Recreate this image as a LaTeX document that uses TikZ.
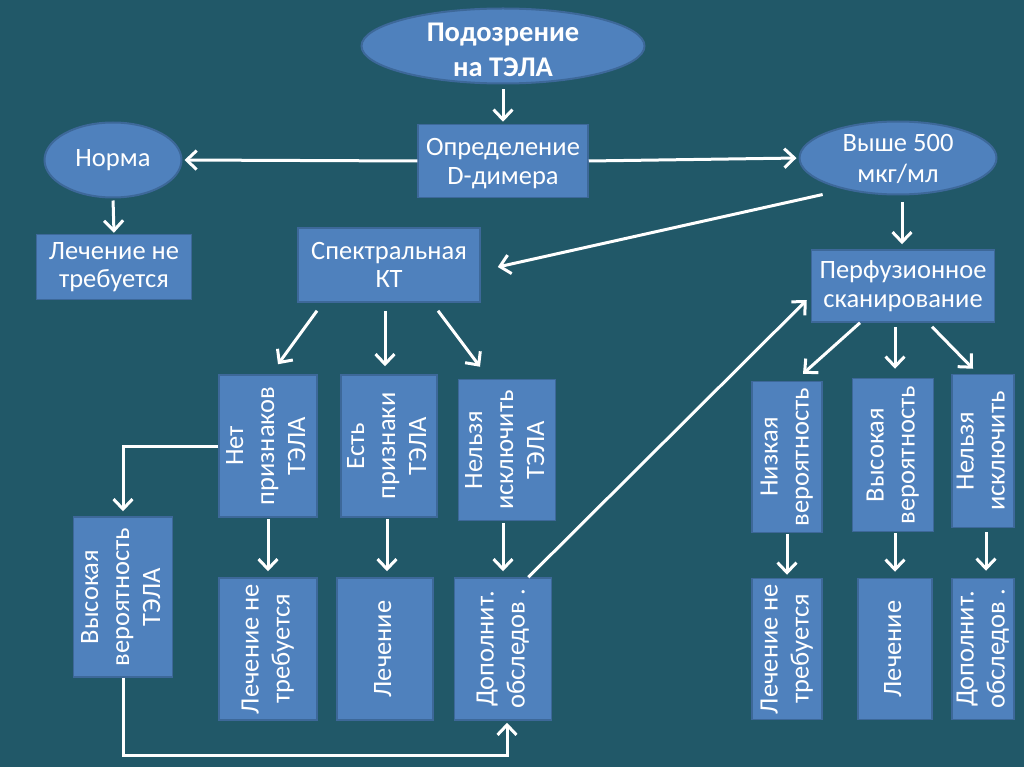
\documentclass[tikz,border=0pt]{standalone}
\usepackage{fontspec}
\setmainfont{Carlito}
\usetikzlibrary{arrows.meta,shapes.geometric,calc}
\definecolor{bg}{HTML}{215868}
\definecolor{boxfill}{HTML}{4F81BD}
\definecolor{boxline}{HTML}{3D6899}
\newcommand{\vtxt}[1]{\rotatebox{90}{\fontsize{26.5}{31}\selectfont\begin{tabular}{@{}c@{}}#1\end{tabular}}}
\newcommand{\lowtxt}[2]{\raisebox{#1}[0pt][0pt]{\begin{tabular}{@{}c@{}}#2\end{tabular}}}
\begin{document}
\begin{tikzpicture}[x=1pt,y=-1pt,
  every node/.style={text=white,font=\fontsize{26.5}{28.5}\selectfont},
  hbox/.style={rectangle,fill=boxfill,draw=boxline,line width=1.5pt,inner sep=0pt,align=center},
  oval/.style={ellipse,fill=boxfill,draw=boxline,line width=2pt,inner sep=0pt,align=center},
  arr/.style={draw=white,line width=3pt,-{Straight Barb[length=10pt,width=19pt,line width=3pt]}}]
\fill[bg] (0,0) rectangle (1024,767);
\useasboundingbox (0,0) rectangle (1024,767);

% top row
\node[oval,minimum width=283,minimum height=75,font=\bfseries\fontsize{28.5}{35}\selectfont] (top) at (503,46) {\lowtxt{-12pt}{Подозрение\\на ТЭЛА}};
\node[hbox,minimum width=170,minimum height=73] (def) at (503,161) {\lowtxt{-9.5pt}{Определение\\D-димера}};
\node[oval,minimum width=137,minimum height=75] (norma) at (113,160) {Норма};
\node[oval,minimum width=197,minimum height=73,font=\fontsize{26.5}{31}\selectfont] (v500) at (898,158) {\lowtxt{-9.5pt}{Выше 500\\мкг/мл}};
\node[hbox,minimum width=155,minimum height=65] (lech0) at (114,267) {Лечение не\\требуется};
\node[hbox,minimum width=182,minimum height=74] (spec) at (389,265) {Спектральная\\КТ};
\node[hbox,minimum width=183,minimum height=72] (perf) at (903,286) {Перфузионное\\сканирование};

% middle row (left group)
\node[hbox,minimum width=98,minimum height=142] (n1) at (268,446) {\vtxt{Нет\\признаков\\ТЭЛА}};
\node[hbox,minimum width=96,minimum height=142] (n2) at (389,446) {\vtxt{Есть\\признаки\\ТЭЛА}};
\node[hbox,minimum width=97,minimum height=141] (n3) at (507,450) {\vtxt{Нельзя\\исключить\\ТЭЛА}};
\node[hbox,minimum width=99,minimum height=160] (hv) at (123,597) {\vtxt{Высокая\\вероятность\\ТЭЛА}};
% bottom row (left group)
\node[hbox,minimum width=98,minimum height=142] (l1) at (268,649) {\vtxt{Лечение не\\требуется}};
\node[hbox,minimum width=96,minimum height=142] (l2) at (385,649) {\vtxt{Лечение}};
\node[hbox,minimum width=97,minimum height=142] (l3) at (503,649) {\vtxt{Дополнит.\\обследов .}};

% right group
\node[hbox,minimum width=70,minimum height=151] (r1) at (787,457) {\vtxt{Низкая\\вероятность}};
\node[hbox,minimum width=81,minimum height=153] (r2) at (893,455) {\vtxt{Высокая\\вероятность}};
\node[hbox,minimum width=62,minimum height=153] (r3) at (983,451) {\vtxt{Нельзя\\исключить}};
\node[hbox,minimum width=70,minimum height=141] (rl1) at (787,649) {\vtxt{Лечение не\\требуется}};
\node[hbox,minimum width=74,minimum height=141] (rl2) at (895,649) {\vtxt{Лечение}};
\node[hbox,minimum width=62,minimum height=141] (rl3) at (983,649) {\vtxt{Дополнит.\\обследов .}};

% connectors
\draw[arr,shorten <=5pt,shorten >=2pt] (top.south) -- (def.north);
\draw[arr,shorten >=2pt] (def.west) -- (norma.east);
\draw[arr,shorten >=2pt] (def.east) -- (v500.west);
\draw[arr,shorten <=2pt,shorten >=1pt] (norma.south) -- (lech0.north);
\draw[arr] ([shift={(-5,10)}]v500.south west) -- ([shift={(17,2)}]spec.east);
\draw[arr,shorten <=7pt,shorten >=5pt] ([xshift=4]v500.south) -- ([xshift=-1]perf.north);

\draw[arr] ([shift={(-72,8)}]spec.south) -- ([shift={(10,-10)}]n1.north);
\draw[arr] ([shift={(-4,8)}]spec.south) -- ([shift={(-4,-8)}]n2.north);
\draw[arr] ([shift={(49,8)}]spec.south) -- ([shift={(-27,-12)}]n3.north);

\draw[arr,shorten <=1pt,shorten >=6pt] (n1.south) -- (l1.north);
\draw[arr,shorten <=1pt,shorten >=6pt] ([xshift=-2]n2.south) -- ([xshift=2]l2.north);
\draw[arr,shorten <=2pt,shorten >=6pt] ([xshift=-4]n3.south) -- (l3.north);

\draw[arr,shorten >=5pt] (n1.west) -| (hv.north);
\draw[arr,shorten >=2pt] (hv.south) -- ++(0,78) -| ([xshift=4]l3.south);
\draw[arr] ([xshift=-24]l3.north east) -- ([shift={(-4,14)}]perf.west);

\draw[arr] ([shift={(-43,0)}]perf.south) -- ([shift={(16,-7)}]r1.north);
\draw[arr] ([shift={(-8,4)}]perf.south) -- ([shift={(2,-9)}]r2.north);
\draw[arr] ([shift={(29,4)}]perf.south) -- ([shift={(-10,-5)}]r3.north);

\draw[arr,shorten <=1pt,shorten >=3pt] (r1.south) -- (rl1.north);
\draw[arr,shorten <=1pt,shorten >=6pt] ([xshift=2]r2.south) -- (rl2.north);
\draw[arr,shorten <=4pt,shorten >=7pt] ([xshift=3]r3.south) -- ([xshift=3]rl3.north);
\end{tikzpicture}
\end{document}
